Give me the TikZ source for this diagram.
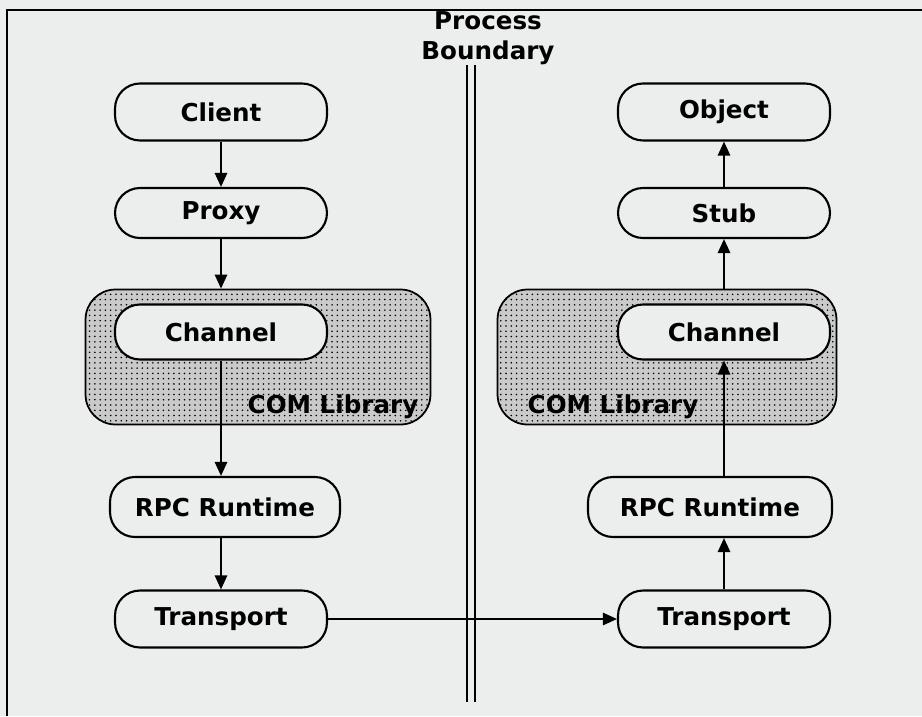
\documentclass[tikz,border=0pt]{standalone}
\usepackage{fontspec}
\setsansfont{DejaVu Sans}
\usepackage{tikz}
\usetikzlibrary{positioning,calc,patterns,arrows.meta}

\definecolor{paper}{RGB}{236,238,237}

\begin{document}
\begin{tikzpicture}[x=0.02cm,y=-0.02cm,
    stage/.style={draw, line width=1.2pt, fill=paper, rounded corners=0.5cm,
      minimum width=4.24cm, minimum height=1.1cm, inner sep=0pt,
      font=\sffamily\bfseries\fontsize{14}{17}\selectfont},
    combox/.style={draw, line width=1pt, rounded corners=0.6cm,
      preaction={fill=paper!85!black}, pattern=dots, pattern color=black},
    flow/.style={-{Triangle[length=8pt,width=7pt]}, line width=1.2pt},
    label/.style={font=\sffamily\bfseries\fontsize{14}{17}\selectfont}]

  % page background and frame
  \useasboundingbox (0,0) rectangle (922,716);
  \fill[paper] (0,0) rectangle (922,716);
  \draw[line width=1pt] (7,716) -- (7,10) -- (922,10);

  % process boundary
  \node[label, align=center] (pb) at (488,38) {Process\\Boundary};
  \draw[line width=1pt] (467,65) -- (467,702);
  \draw[line width=1pt] (475,65) -- (475,702);

  % COM library areas
  \node[combox, minimum width=6.9cm, minimum height=2.7cm] (comL) at (258,357) {};
  \node[combox, minimum width=6.78cm, minimum height=2.7cm] (comR) at (667,357) {};
  \node[label] (libL) at (333,407) {COM Library};
  \node[label] (libR) at (613,407) {COM Library};

  % client side
  \node[stage, minimum height=1.14cm] (client) at (221,112) {Client};
  \node[stage, minimum height=1.0cm] (proxy) at (221,213) {Proxy};
  \node[stage] (chanL) at (221,332) {Channel};
  \node[stage, minimum width=4.6cm, minimum height=1.2cm] (rpcL) at (225,507) {RPC Runtime};
  \node[stage, minimum height=1.14cm] (transL) at (221,619) {Transport};

  % server side
  \node[stage, minimum height=1.14cm] (object) at (724,112) {Object};
  \node[stage, minimum height=1.0cm] (stub) at (724,213) {Stub};
  \node[stage] (chanR) at (724,332) {Channel};
  \node[stage, minimum width=4.88cm, minimum height=1.2cm] (rpcR) at (710,507) {RPC Runtime};
  \node[stage, minimum height=1.14cm] (transR) at (724,619) {Transport};

  % calls down the client side
  \draw[flow] (client) -- (proxy);
  \draw[flow] (proxy) -- (proxy |- comL.north);
  \draw[flow] (chanL) -- (chanL |- rpcL.north);
  \draw[flow] (rpcL.south -| transL) -- (transL);

  % across the boundary
  \draw[flow] (transL) -- (transR);

  % calls up the server side
  \draw[flow] (transR) -- (transR |- rpcR.south);
  \draw[flow] (transR |- rpcR.north) -- (chanR);
  \draw[flow] (stub |- comR.north) -- (stub);
  \draw[flow] (stub) -- (object);
\end{tikzpicture}
\end{document}
